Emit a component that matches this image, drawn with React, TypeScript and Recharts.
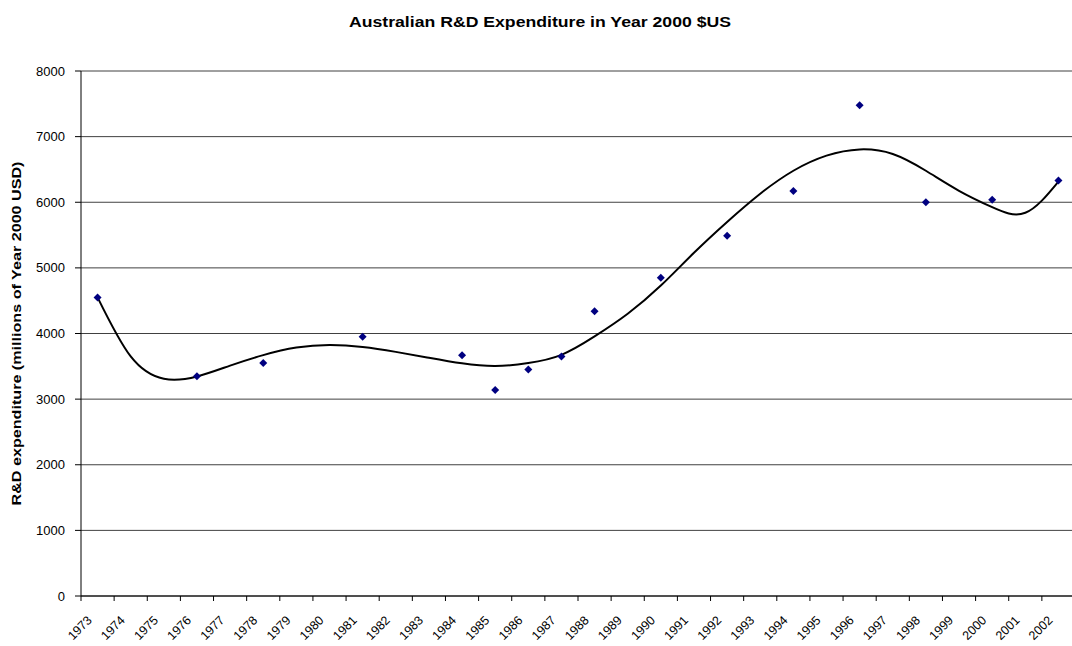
import React from "react";
import {
  ComposedChart,
  Line,
  XAxis,
  YAxis,
  CartesianGrid,
} from "recharts";

// years on the category axis
const years = [
  "1973", "1974", "1975", "1976", "1977", "1978", "1979", "1980", "1981", "1982",
  "1983", "1984", "1985", "1986", "1987", "1988", "1989", "1990", "1991", "1992",
  "1993", "1994", "1995", "1996", "1997", "1998", "1999", "2000", "2001", "2002",
];

// measured R&D spend (millions of year 2000 USD), null where no survey
const spend = [
  4550, null, null, 3350, null, 3550, null, null, 3950, null,
  null, 3670, 3140, 3450, 3650, 4340, null, 4850, null, 5490,
  null, 6170, null, 7480, null, 6000, null, 6040, null, 6330,
];

// polynomial trendline at each year
const trend = [
  4550, 3650, 3310, 3345, 3510, 3670, 3785, 3825, 3795, 3720,
  3630, 3545, 3505, 3550, 3675, 3955, 4300, 4730, 5230, 5700,
  6130, 6480, 6710, 6805, 6735, 6480, 6175, 5925, 5840, 6315,
];

const yTicks = [0, 1000, 2000, 3000, 4000, 5000, 6000, 7000, 8000];

const data = years.map((year, i) => ({
  year,
  spend: spend[i],
  trend: trend[i],
}));

const FONT = "'Liberation Sans', Arial, sans-serif";

const YearTick = (props: any) => {
  const { x, y, payload } = props;
  const half = payload && payload.offset ? payload.offset : 16.5;
  const ax = x - 5;
  const ay = y + 25;
  return (
    <g>
      <line x1={x - half} y1={y} x2={x - half} y2={y + 5} stroke="#000" />
      <text
        x={ax}
        y={ay}
        textAnchor="end"
        fontSize={12.5}
        fontFamily={FONT}
        fill="#000"
        transform={`rotate(-45, ${ax}, ${ay})`}
      >
        {payload.value}
      </text>
    </g>
  );
};

const Diamond = (props: any) => {
  const { cx, cy, index, payload } = props;
  if (payload == null || payload.spend == null || cy == null || isNaN(cy)) {
    return <g key={`d-${index}`} />;
  }
  const r = 4;
  return (
    <path
      key={`d-${index}`}
      d={`M${cx},${cy - r} L${cx + r},${cy} L${cx},${cy + r} L${cx - r},${cy} Z`}
      fill="#000080"
    />
  );
};

const YTitle = (props: any) => {
  const vb = props.viewBox || {};
  const cy = (vb.y || 71) + (vb.height || 525) / 2;
  return (
    <text
      x={17}
      y={cy}
      textAnchor="middle"
      dominantBaseline="central"
      fontSize={12.5}
      fontWeight="bold"
      fontFamily={FONT}
      fill="#000"
      textLength={344}
      lengthAdjust="spacingAndGlyphs"
      transform={`rotate(-90, 17, ${cy})`}
    >
      R&amp;D expenditure (millions of Year 2000 USD)
    </text>
  );
};

export default function App() {
  return (
    <div
      style={{
        position: "absolute",
        left: 0,
        top: 0,
        width: 1072,
        height: 646,
        overflow: "hidden",
        background: "#fff",
      }}
    >
      <svg
        width={1072}
        height={40}
        style={{ position: "absolute", left: 0, top: 0 }}
      >
        <text
          x={540}
          y={27}
          textAnchor="middle"
          fontSize={14}
          fontWeight="bold"
          fontFamily={FONT}
          fill="#000"
          textLength={382}
          lengthAdjust="spacingAndGlyphs"
        >
          Australian R&amp;D Expenditure in Year 2000 $US
        </text>
      </svg>
      <ComposedChart
        width={1078}
        height={646}
        data={data}
        margin={{ top: 71, right: 3, bottom: 0, left: 0 }}
        style={{ position: "absolute", left: 0, top: 0 }}
      >
        <CartesianGrid vertical={false} stroke="#000" strokeOpacity={0.75} />
        <XAxis
          dataKey="year"
          type="category"
          scale="band"
          interval={0}
          height={50}
          tickSize={0}
          tickMargin={0}
          axisLine={{ stroke: "#000" }}
          tickLine={false}
          tick={<YearTick />}
        />
        <YAxis
          type="number"
          domain={[0, 8000]}
          ticks={yTicks}
          interval={0}
          width={81}
          tickSize={6}
          tickMargin={10}
          axisLine={{ stroke: "#000" }}
          tickLine={{ stroke: "#000" }}
          tick={{ fontSize: 13, fontFamily: FONT, fill: "#000" }}
          label={<YTitle />}
        />
        <Line
          dataKey="trend"
          type="natural"
          stroke="#000"
          strokeWidth={2}
          dot={false}
          activeDot={false}
          isAnimationActive={false}
        />
        <Line
          dataKey="spend"
          stroke="none"
          dot={Diamond}
          activeDot={false}
          isAnimationActive={false}
        />
      </ComposedChart>
    </div>
  );
}
